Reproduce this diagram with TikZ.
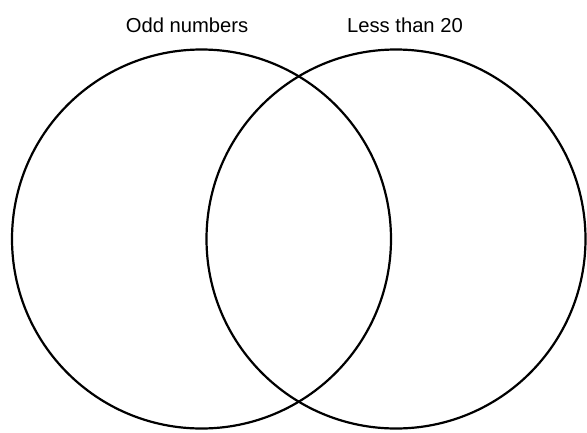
\documentclass[tikz,border=0pt]{standalone}
\usepackage{fontspec}
\setmainfont{Liberation Sans}
\usetikzlibrary{positioning}
\tikzset{
  setcircle/.style={circle, draw=black, line width=2.2pt, minimum size=379pt, inner sep=0pt},
  setlabel/.style={font=\fontsize{20.2}{24}\selectfont, inner sep=0pt}
}

\begin{document}
\begin{tikzpicture}[x=1pt, y=-1pt]
  \useasboundingbox (0,0) rectangle (587,432);

  % --- Conjuntos ---
  \node (odd) [setcircle] at (201.5,239) {};
  \node (less) [setcircle] at (396,239) {};

  % --- Etiquetas ---
  \node (oddlabel) [setlabel] at (187,25) {Odd numbers};
  \node (lesslabel) [setlabel] at (405,25) {Less than 20};
\end{tikzpicture}
\end{document}
